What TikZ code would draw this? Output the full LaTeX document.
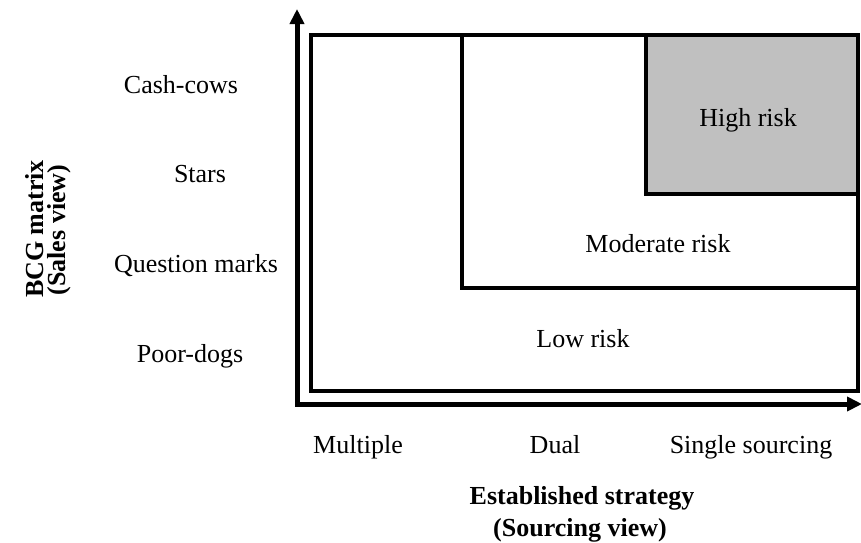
\documentclass[tikz,border=0pt]{standalone}
\usepackage{fontspec}
\setmainfont{Liberation Serif}
\usetikzlibrary{arrows.meta}
\definecolor{riskgray}{HTML}{C0C0C0}
\tikzset{
  lbl/.style={font=\fontsize{26}{31}\selectfont, inner sep=0pt, anchor=base},
  axislbl/.style={font=\fontsize{26}{31}\selectfont\bfseries, inner sep=0pt, anchor=base},
  zone/.style={line width=4pt, line join=miter},
  axis/.style={line width=5pt, line join=miter,
    {Triangle[length=15pt,width=14pt]}-{Triangle[length=15pt,width=14pt]}}
}
\begin{document}
\begin{tikzpicture}[x=1pt,y=-1pt]
\useasboundingbox (0,0) rectangle (861,542);

% risk zones, nested in the upper right corner
\draw[zone] (311,35) rectangle (858,391);
\draw[zone] (462,35) rectangle (858,288);
\draw[zone, fill=riskgray] (646,35) rectangle (858,194);

% axes
\coordinate (ytop) at (297,9);
\coordinate (origin) at (297,404);
\coordinate (xend) at (862,404);
\draw[axis] (ytop) -- (origin) -- (xend);

% zone labels
\node[lbl] (high) at (748,126) {High risk};
\node[lbl] (moderate) at (658,252) {Moderate risk};
\node[lbl] (low) at (583,347) {Low risk};

% BCG categories
\node[lbl] (cash) at (181,93) {Cash-cows};
\node[lbl] (stars) at (200,182) {Stars};
\node[lbl] (quest) at (196,272) {Question marks};
\node[lbl] (dogs) at (190,362) {Poor-dogs};

% sourcing strategies
\node[lbl] (multiple) at (358,453) {Multiple};
\node[lbl] (dual) at (555,453) {Dual};
\node[lbl] (single) at (751,453) {Single sourcing};

% axis titles
\node[axislbl, rotate=90] (ytitleA) at (43,229) {BCG matrix};
\node[axislbl, rotate=90] (ytitleB) at (65,230) {(Sales view)};
\node[axislbl] (xtitleA) at (582,504) {Established strategy};
\node[axislbl] (xtitleB) at (580,536) {(Sourcing view)};
\end{tikzpicture}
\end{document}
